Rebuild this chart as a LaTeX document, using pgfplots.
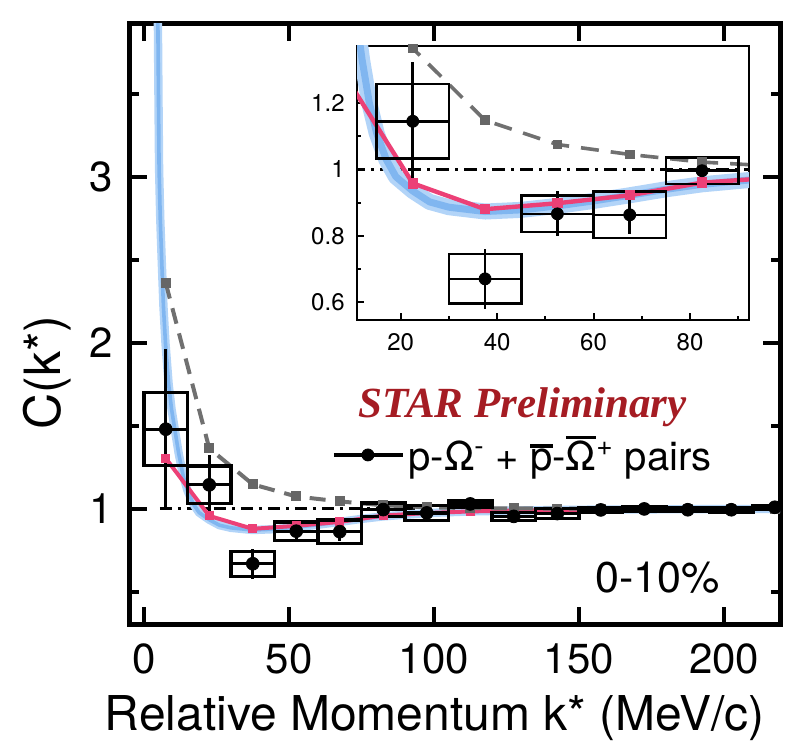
\documentclass[border=0pt]{standalone}
\usepackage{pgfplots}
\pgfplotsset{compat=1.18}
\usepackage{pgfplotstable}
\usepackage{fontspec}
\setmainfont{TeX Gyre Heros}
\newfontfamily\starfont{Liberation Serif}
\usetikzlibrary{calc}

\definecolor{bandouter}{RGB}{178,212,248}
\definecolor{bandinner}{RGB}{128,182,240}
\definecolor{pinkline}{RGB}{236,64,118}
\definecolor{grayline}{RGB}{112,112,112}
\definecolor{starred}{RGB}{165,28,35}

\newcommand\ovl[1]{\leavevmode\vbox{\hrule height 1.6pt\kern 0.8pt\hbox{#1}}}

\pgfplotstableread{
x y stat sys
7.5 1.48 0.48 0.22
22.5 1.145 0.178 0.113
37.5 0.670 0.090 0.075
52.5 0.866 0.068 0.055
67.5 0.863 0.057 0.070
82.5 0.996 0.030 0.040
97.5 0.976 0.025 0.045
112.5 1.030 0.020 0.022
127.5 0.955 0.018 0.025
142.5 0.972 0.018 0.030
157.5 0.994 0.015 0.014
172.5 1.000 0.012 0.012
187.5 0.995 0.012 0.012
202.5 0.995 0.012 0.015
217.5 1.010 0.012 0.012
}\pomega

\pgfplotstableread{
x y
4.5 4.4
4.8 3.9
5.0 3.45
5.2 3.05
5.6 2.75
6.1 2.5
6.7 2.22
7.4 2.0
8.5 1.75
9.5 1.6
10.7 1.47
12.0 1.33
13.5 1.2
15.0 1.11
17.0 1.03
19.0 0.978
22.5 0.935
26.0 0.902
30.0 0.886
37.5 0.873
45.0 0.878
52.5 0.890
60.0 0.905
67.5 0.922
75.0 0.940
82.5 0.955
97.5 0.975
112.5 0.985
127.5 0.990
150.0 0.995
180.0 0.998
220.0 1.000
}\bandcurve

\pgfplotstableread{
x y
7.5 1.305
22.5 0.958
37.5 0.880
52.5 0.898
67.5 0.922
82.5 0.960
97.5 0.975
112.5 0.985
127.5 0.990
142.5 0.993
157.5 0.996
172.5 0.998
187.5 0.999
202.5 1.000
217.5 1.000
}\pinkcurve

\pgfplotstableread{
x y
7.5 2.36
22.5 1.365
37.5 1.148
52.5 1.075
67.5 1.045
82.5 1.022
97.5 1.010
112.5 1.005
127.5 1.003
142.5 1.002
157.5 1.001
172.5 1.000
187.5 1.000
202.5 1.000
217.5 1.000
}\graycurve

\pgfplotsset{
  nomark/.style={forget plot, draw=none, mark=none},
  boxh/.style 2 args={nomark,
    error bars/x dir=both, error bars/x fixed=#2, error bars/error mark=none,
    error bars/error bar style={line width=#1, line cap=butt, draw=black, solid}},
  boxv/.style={nomark,
    error bars/y dir=both, error bars/y explicit, error bars/error mark=none,
    error bars/error bar style={line width=#1, line cap=butt, draw=black, solid}},
  staterrh/.style={nomark,
    error bars/x dir=both, error bars/x fixed=7.5, error bars/error mark=none,
    error bars/error bar style={line width=#1, line cap=butt, draw=black, solid}},
  staterrv/.style={nomark,
    error bars/y dir=both, error bars/y explicit, error bars/error mark=none,
    error bars/error bar style={line width=#1, line cap=butt, draw=black, solid}},
}

\begin{document}
\begin{tikzpicture}
\begin{axis}[
  name=main,
  scale only axis, width=325pt, height=300pt,
  xmin=-4.83, xmax=219.3, ymin=0.307, ymax=3.92,
  xtick={0,50,100,150,200},
  ytick={1,2,3}, minor ytick={0.5,1.5,2.5,3.5},
  tick align=inside,
  major tick length=8.5pt, minor tick length=4.5pt,
  tick style={line width=2pt, black},
  axis line style={line width=2.5pt},
  /pgf/number format/assume math mode=true,
  tick label style={font=\fontsize{21}{25}\selectfont},
  xticklabel style={inner sep=0pt, anchor=north, yshift=-9.5pt},
  yticklabel style={inner sep=0pt, anchor=east, xshift=-8.5pt},
  xlabel={Relative Momentum k* (MeV/c)},
  xlabel style={font=\fontsize{24}{28}\selectfont, inner sep=0pt, anchor=base, at={(rel axis cs:0.469,0)}, yshift=-53pt},
  ylabel={C(k*)},
  ylabel style={font=\fontsize{25}{30}\selectfont, inner sep=0pt, rotate=0, anchor=south, at={(rel axis cs:0,0.419)}, yshift=29pt},
  legend style={at={(axis cs:64.8,1.325)}, anchor=west, draw=none, fill=none, inner sep=0pt,
    font=\fontsize{20}{24}\selectfont},
]
% dash-dot reference line
\addplot[forget plot, black, line width=1.5pt, dash pattern=on 6pt off 3pt on 1.5pt off 3pt] coordinates {(5.5,1) (95,1)};
% model band
\addplot[forget plot, bandouter, line width=4.2pt, line join=round] table {\bandcurve};
\addplot[forget plot, bandinner, line width=1.8pt, line join=round] table {\bandcurve};
% pink curve
\addplot[forget plot, pinkline, line width=2pt, mark=square*, mark size=1.3pt] table {\pinkcurve};
% gray dashed curve
\addplot[forget plot, grayline, line width=2pt, dash pattern=on 8pt off 5pt, mark=square*, mark size=1.5pt, mark options={solid, fill=black!60, draw=black!60}] table {\graycurve};
% systematic boxes
\addplot[boxh={1.6pt}{8.05}] table[x=x, y expr=\thisrow{y}+\thisrow{sys}] {\pomega};
\addplot[boxh={1.6pt}{8.05}] table[x=x, y expr=\thisrow{y}-\thisrow{sys}] {\pomega};
\addplot[boxv=1.6pt] table[x expr=\thisrow{x}-7.5, y=y, y error=sys] {\pomega};
\addplot[boxv=1.6pt] table[x expr=\thisrow{x}+7.5, y=y, y error=sys] {\pomega};
% bin widths and statistical errors
\addplot[staterrh=1.6pt] table[x=x, y=y] {\pomega};
\addplot[staterrv=1.6pt] table[x=x, y=y, y error=stat] {\pomega};
% data points
\addplot[black, only marks, mark=*, mark size=3.2pt,
  legend image code/.code={\draw[line width=1.6pt] (0pt,0pt)--(34.5pt,0pt); \fill (17pt,0pt) circle (3pt);}]
  table[x=x, y=y] {\pomega};
\addlegendentry{p-Ω\textsuperscript{-} + \ovl{p}-\ovl{Ω}\textsuperscript{+} pairs}
\node[anchor=base, inner sep=0pt, text=starred, font=\starfont\bfseries\itshape\fontsize{21.5}{26}\selectfont] at (axis cs:130.5,1.548) {STAR Preliminary};
\node[anchor=base, inner sep=0pt, font=\fontsize{21.5}{26}\selectfont] at (axis cs:177,0.494) {0-10\%};
\end{axis}

\begin{axis}[
  name=inset,
  at={($(main.south west)+(113.5pt,152pt)$)}, anchor=south west,
  scale only axis, width=196pt, height=137pt,
  xmin=10.94, xmax=92.24, ymin=0.546, ymax=1.372,
  axis background/.style={fill=white},
  xtick={20,40,60,80}, minor xtick={10,30,50,70,90},
  ytick={0.6,0.8,1,1.2}, minor ytick={0.7,0.9,1.1,1.3},
  xtick pos=lower, ytick pos=lower,
  tick align=inside,
  major tick length=3.3pt, minor tick length=1.8pt,
  tick style={line width=1pt, black},
  axis line style={line width=1.2pt},
  /pgf/number format/assume math mode=true,
  tick label style={font=\fontsize{12}{14}\selectfont},
  xticklabel style={inner sep=0pt, anchor=north, yshift=-6.5pt},
  yticklabel style={inner sep=0pt, anchor=east, xshift=-6pt},
]
\addplot[forget plot, black, line width=1.3pt, dash pattern=on 6.5pt off 3pt on 1.5pt off 3pt] coordinates {(10,1) (93,1)};
\addplot[forget plot, bandouter, line width=8pt, line join=round] table {\bandcurve};
\addplot[forget plot, bandinner, line width=3.5pt, line join=round] table {\bandcurve};
\addplot[forget plot, pinkline, line width=2.2pt, mark=square*, mark size=1.5pt] table {\pinkcurve};
\addplot[forget plot, grayline, line width=1.8pt, dash pattern=on 9pt off 6pt, mark=square*, mark size=1.5pt, mark options={solid, fill=black!60, draw=black!60}] table {\graycurve};
\pgfplotsset{insetfilter/.style={x filter/.expression={(\coordindex<1 || \coordindex>5) ? nan : x}}}
\addplot[boxh={1.3pt}{7.77}, insetfilter] table[x=x, y expr=\thisrow{y}+\thisrow{sys}] {\pomega};
\addplot[boxh={1.3pt}{7.77}, insetfilter] table[x=x, y expr=\thisrow{y}-\thisrow{sys}] {\pomega};
\addplot[boxv=1.3pt, insetfilter] table[x expr=\thisrow{x}-7.5, y=y, y error=sys] {\pomega};
\addplot[boxv=1.3pt, insetfilter] table[x expr=\thisrow{x}+7.5, y=y, y error=sys] {\pomega};
\addplot[staterrh=1.3pt, insetfilter] table[x=x, y=y] {\pomega};
\addplot[staterrv=1.3pt, insetfilter] table[x=x, y=y, y error=stat] {\pomega};
\addplot[forget plot, black, only marks, mark=*, mark size=3pt, insetfilter] table[x=x, y=y] {\pomega};
\end{axis}

\pgfresetboundingbox
\path[use as bounding box] ($(main.south west)+(-65pt,-60pt)$) rectangle ($(main.south west)+(331pt,312pt)$);
\end{tikzpicture}
\end{document}
